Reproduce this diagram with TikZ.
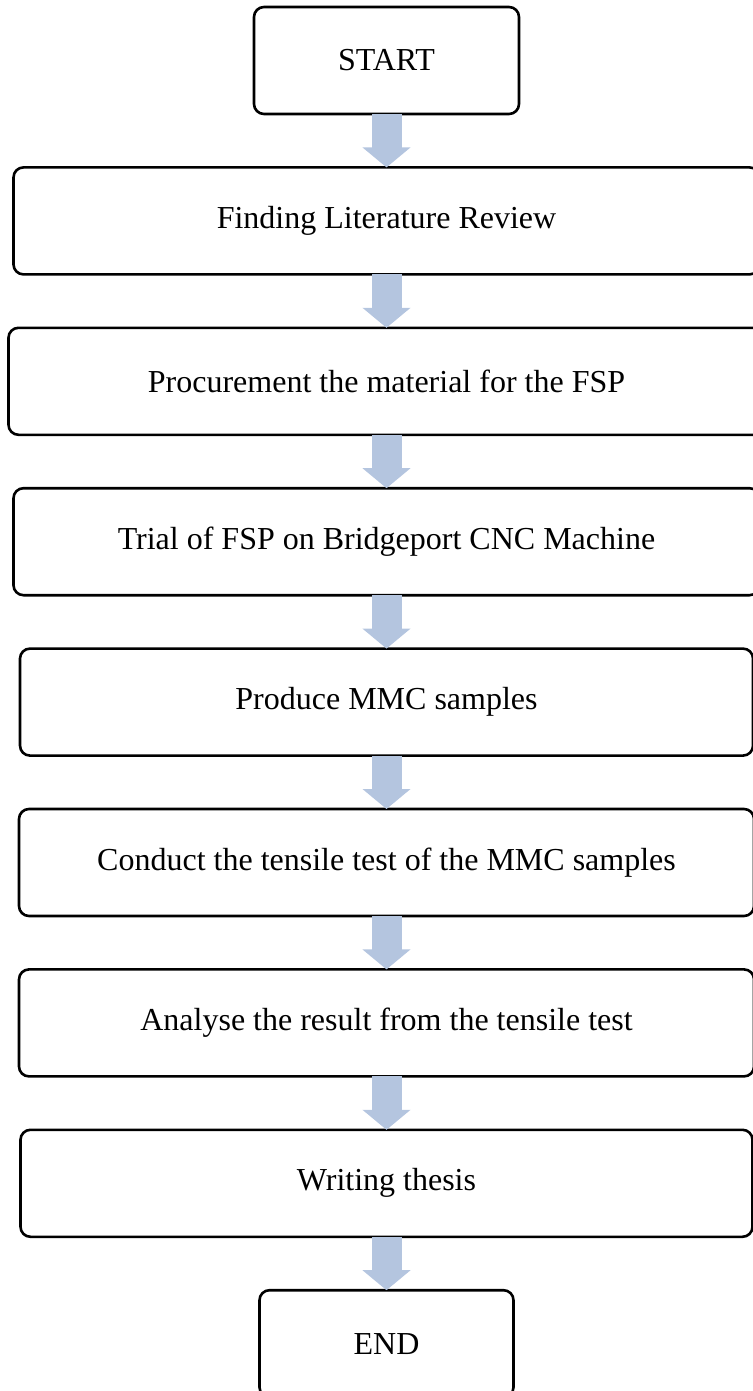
\documentclass[tikz,border=0pt]{standalone}
\usepackage{fontspec}
\setmainfont{Liberation Serif}
\usepackage{xcolor}
\usepackage{tikz}
\usetikzlibrary{arrows.meta,positioning}
\definecolor{flowblue}{RGB}{180,197,223}

\begin{document}
\begin{tikzpicture}[font=\fontsize{16}{19}\selectfont, box/.style={draw, line width=1.3pt, rounded corners=5pt, outer sep=0pt, align=center, minimum height=53.5pt}, arr/.style={-{Triangle[length=10pt,width=23.5pt]}, line width=15pt, draw=flowblue}, node distance=26.7pt]
\useasboundingbox (0,0) rectangle (376pt,-695.5pt);
\node[box, minimum width=132.5pt] (start) at (193.25pt,-30.25pt) {START};
\node[box, below=of start, minimum width=373pt] (lit) {Finding Literature Review};
\node[box, below=of lit, minimum width=378pt] (proc) {Procurement the material for the FSP};
\node[box, below=of proc, minimum width=373pt] (trial) {Trial of FSP on Bridgeport CNC Machine};
\node[box, below=of trial, minimum width=366.5pt] (mmc) {Produce MMC samples};
\node[box, below=of mmc, minimum width=367.5pt] (tens) {Conduct the tensile test of the MMC samples};
\node[box, below=of tens, minimum width=367.5pt] (anal) {Analyse the result from the tensile test};
\node[box, below=of anal, minimum width=366pt] (thes) {Writing thesis};
\node[box, below=of thes, minimum width=127pt] (end) {END};
\draw[arr] (start.south) -- (lit.north);
\draw[arr] (lit.south) -- (proc.north);
\draw[arr] (proc.south) -- (trial.north);
\draw[arr] (trial.south) -- (mmc.north);
\draw[arr] (mmc.south) -- (tens.north);
\draw[arr] (tens.south) -- (anal.north);
\draw[arr] (anal.south) -- (thes.north);
\draw[arr] (thes.south) -- (end.north);
\end{tikzpicture}
\end{document}
